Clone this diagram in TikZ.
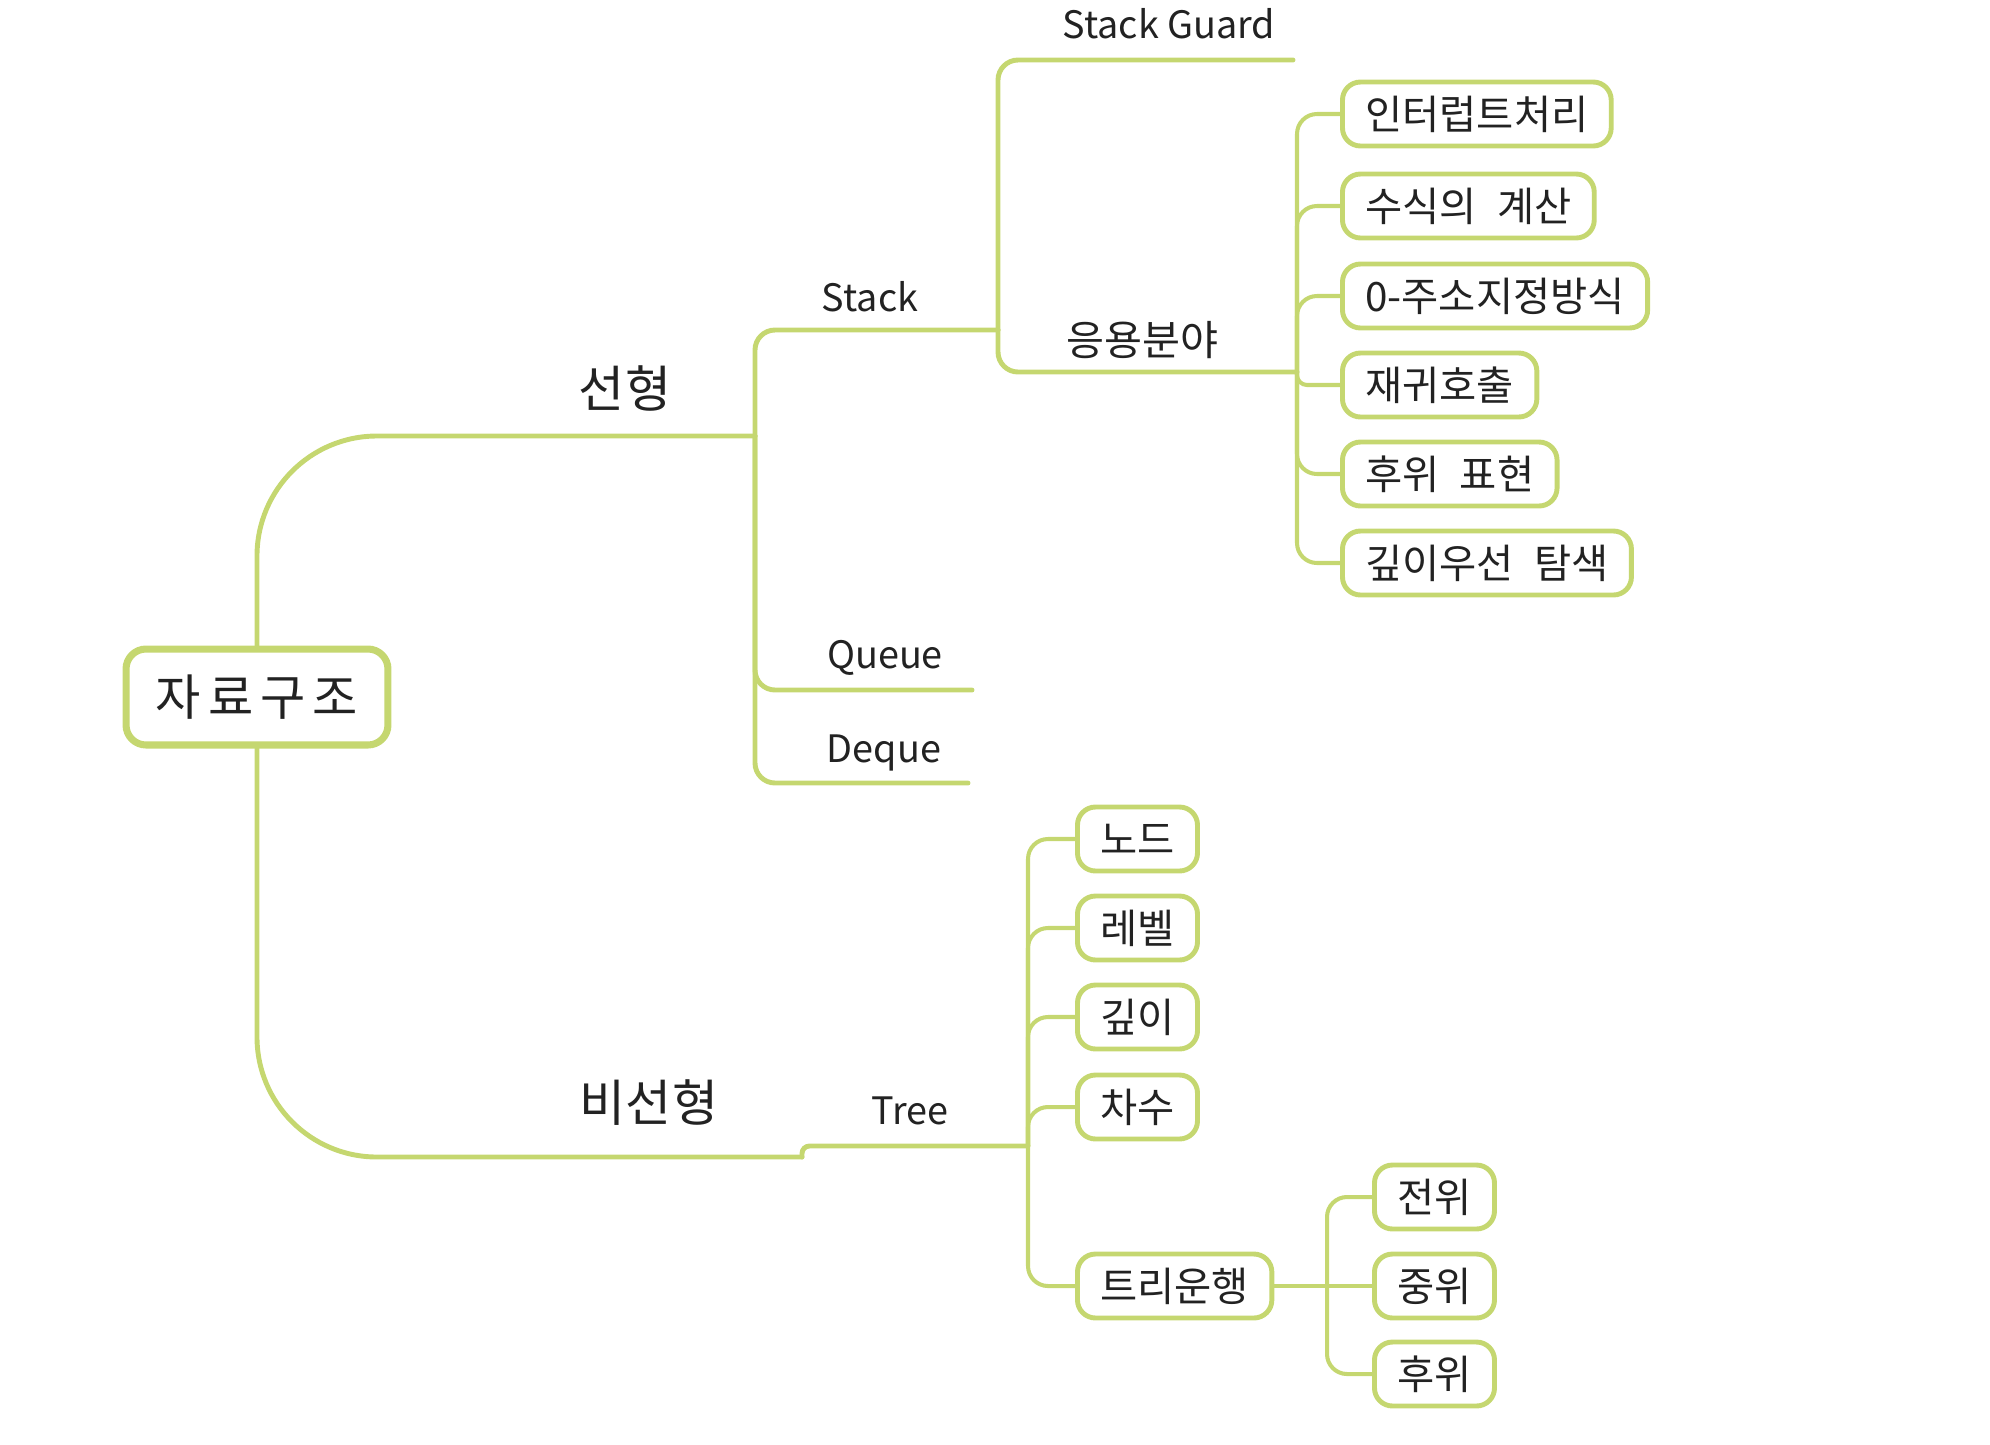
\documentclass[tikz,border=0pt]{standalone}
\usepackage{fontspec}
\setmainfont{Noto Sans CJK KR}
\definecolor{mapgreen}{RGB}{197,215,112}
\definecolor{ink}{RGB}{34,34,34}

\begin{document}
\begin{tikzpicture}[x=0.02cm, y=-0.02cm,
    branch/.style={draw=mapgreen, line width=2.8pt, line cap=round},
    twig/.style={draw=mapgreen, line width=2.3pt, line cap=round, rounded corners=0.4cm},
    topic/.style={text=ink, font=\fontsize{21.5}{24}\selectfont, inner sep=0pt, anchor=base},
    leaf/.style={draw=mapgreen, line width=2.8pt, rounded corners=0.36cm, fill=white, text=ink,
      font=\fontsize{23}{26}\selectfont, anchor=west, inner xsep=13pt, inner ysep=0pt,
      minimum height=1.28cm}]

  \useasboundingbox (0,0) rectangle (1990,1444);

  % root
  \node[draw=mapgreen, line width=4pt, rounded corners=0.4cm, fill=white, text=ink,
    minimum width=5.24cm, minimum height=1.92cm, font=\fontsize{28}{32}\selectfont]
    (root) at (257,697) {자\hspace{4pt}료\hspace{4pt}구\hspace{4pt}조};

  % topics written over their lines
  \node[topic, font=\fontsize{28.5}{32}\selectfont] (linear) at (625,407) {선형};
  \node[topic, font=\fontsize{28.5}{32}\selectfont] (nonlinear) at (649,1121) {비선형};
  \node[topic] (stack) at (870,311) {Stack};
  \node[topic] (queue) at (885,668) {Queue};
  \node[topic] (deque) at (884,762) {Deque};
  \node[topic] (tree) at (910,1124) {Tree};
  \node[topic] (guard) at (1169,38) {Stack Guard};
  \node[topic, font=\fontsize{23.5}{26}\selectfont] (apps) at (1142,355) {응용분야};

  \coordinate (linear-fork) at (755,436);
  \coordinate (stack-fork) at (998,330);
  \coordinate (apps-fork) at (1297,372);
  \coordinate (guard-end) at (1293,60);
  \coordinate (queue-end) at (972,690);
  \coordinate (deque-end) at (968,783);
  \coordinate (nonlinear-step) at (802,1157);
  \coordinate (tree-fork) at (1028,1146);
  \coordinate (trav-fork) at (1327,1286);

  % main branches
  \draw[branch, rounded corners=2.4cm] (root.north) |- (linear-fork);
  \draw[branch, rounded corners=0.4cm] (linear-fork) |- (stack-fork);
  \draw[branch, rounded corners=0.4cm] (linear-fork) |- (queue-end);
  \draw[branch, rounded corners=0.4cm] (linear-fork) |- (deque-end);
  \draw[branch, rounded corners=0.4cm] (stack-fork) |- (guard-end);
  \draw[branch, rounded corners=0.4cm] (stack-fork) |- (apps-fork);
  \draw[branch, rounded corners=2.4cm] (root.south) |- (nonlinear-step);
  \draw[branch, rounded corners=0.15cm] (nonlinear-step) |- (tree-fork);

  % stack applications
  \foreach \name/\y/\txt in {int/114/인터럽트처리, calc/206/수식의\hspace{0.5em}계산,
      zero/296/0-주소지정방식, rec/385/재귀호출, post/474/후위\hspace{0.5em}표현,
      dfs/563/깊이우선\hspace{0.5em}탐색}
    \node[leaf] (\name) at (1340,\y) {\txt};
  \foreach \name in {int,calc,zero,post,dfs}
    \draw[twig] (apps-fork) |- (\name.west);
  \draw[twig, rounded corners=0.2cm] (apps-fork) |- (rec.west);

  % tree
  \foreach \name/\y/\txt in {tnode/839/노드, tlevel/928/레벨, tdepth/1017/깊이,
      tdegree/1107/차수, trav/1286/트리운행}
    \node[leaf] (\name) at (1075,\y) {\txt};
  \foreach \name in {tnode,tlevel,tdepth,tdegree,trav}
    \draw[twig] (tree-fork) |- (\name.west);

  \foreach \name/\y/\txt in {pre/1197/전위, inord/1286/중위, postord/1374/후위}
    \node[leaf] (\name) at (1372,\y) {\txt};
  \draw[twig] (trav.east) -- (inord.west);
  \foreach \name in {pre,postord}
    \draw[twig] (trav-fork) |- (\name.west);
\end{tikzpicture}
\end{document}
